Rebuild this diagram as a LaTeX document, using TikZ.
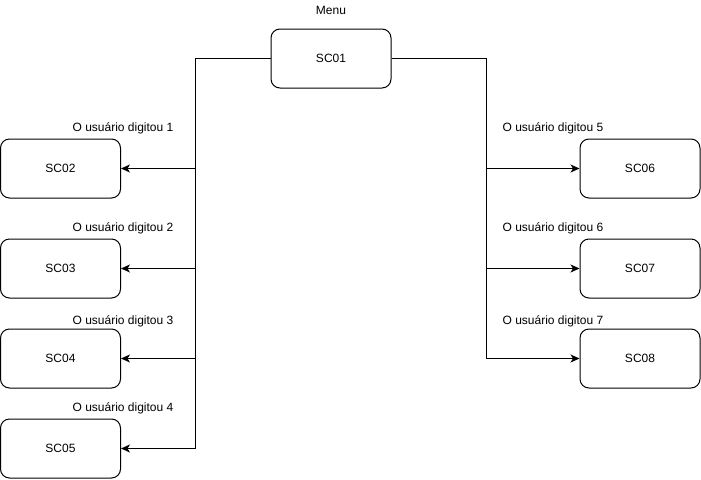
\documentclass[tikz,border=0pt]{standalone}
\usepackage{fontspec}
\setmainfont{Liberation Sans}
\usetikzlibrary{arrows.meta,positioning,calc}
\tikzset{
  screen/.style={draw=black, line width=1pt, rounded corners=9pt, fill=white,
                 minimum width=120pt, minimum height=59pt, inner sep=0pt,
                 font=\fontsize{12}{14}\selectfont},
  wire/.style={draw=black, line width=1pt},
  flow/.style={-{Stealth[length=9pt,width=8pt,inset=2.5pt]}, line width=1pt, draw=black},
  lbl/.style={font=\fontsize{12}{14}\selectfont, inner sep=0pt}
}
\begin{document}
\begin{tikzpicture}[x=1pt,y=-1pt]
  \useasboundingbox (0,0) rectangle (701,479);
  % menu
  \node[screen] (sc01) at (331,58.5) {SC01};
  \node[lbl] (menu) at (331,10) {Menu};
  % left column
  \node[screen] (sc02) at (60.5,168.5) {SC02};
  \node[screen] (sc03) at (60.5,268.5) {SC03};
  \node[screen] (sc04) at (60.5,358.5) {SC04};
  \node[screen] (sc05) at (60.5,448.5) {SC05};
  % right column
  \node[screen] (sc06) at (640,168.5) {SC06};
  \node[screen] (sc07) at (640,268.5) {SC07};
  \node[screen] (sc08) at (640,358.5) {SC08};
  % labels
  \node[lbl] (l1) at (123,128) {O usuário digitou 1};
  \node[lbl] (l2) at (123,228) {O usuário digitou 2};
  \node[lbl] (l3) at (123,321) {O usuário digitou 3};
  \node[lbl] (l4) at (123,408) {O usuário digitou 4};
  \node[lbl] (l5) at (553,128) {O usuário digitou 5};
  \node[lbl] (l6) at (553,228) {O usuário digitou 6};
  \node[lbl] (l7) at (553,321) {O usuário digitou 7};
  % trunks
  \coordinate (ltop) at (195,58.5);
  \coordinate (rtop) at (486,58.5);
  \draw[wire] (sc01.west) -- (ltop) -- (ltop |- sc05.east);
  \draw[wire] (sc01.east) -- (rtop) -- (rtop |- sc08.west);
  \foreach \s in {sc02,sc03,sc04,sc05}
    \draw[flow] (ltop |- \s.east) -- (\s.east);
  \foreach \s in {sc06,sc07,sc08}
    \draw[flow] (rtop |- \s.west) -- (\s.west);
\end{tikzpicture}
\end{document}
